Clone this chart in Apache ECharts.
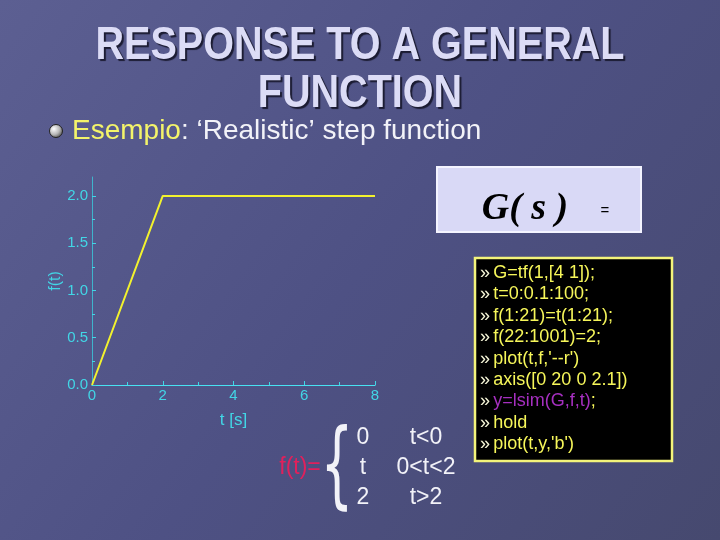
<!DOCTYPE html>
<html>
<head>
<meta charset="utf-8">
<script src="https://cdn.jsdelivr.net/npm/echarts@6/dist/echarts.min.js"></script>
<style>
html,body{margin:0;padding:0;background:#4e5182;}
#chart{width:720px;height:540px;}
</style>
</head>
<body>
<div id="chart"></div>
<script>
// ---- data ----
var timeValues = [0, 2, 8];
var fValues = [0, 2, 2];
var xTicks = [0, 2, 4, 6, 8];
var yTicks = [0, 0.5, 1.0, 1.5, 2.0];
var yMinorTicks = [0.25, 0.75, 1.25, 1.75];
var codeLines = [
  "G=tf(1,[4 1]);",
  "t=0:0.1:100;",
  "f(1:21)=t(1:21);",
  "f(22:1001)=2;",
  "plot(t,f,'--r')",
  "axis([0 20 0 2.1])",
  "y=lsim(G,f,t);",
  "hold",
  "plot(t,y,'b')"
];
var pieceValues = ["0", "t", "2"];
var pieceConds = ["t<0", "0<t<2", "t>2"];

var chart = echarts.init(document.getElementById('chart'), null, {renderer: 'canvas'});

var graphics = [];
// background
graphics.push({
  type: 'rect', z: -10, silent: true,
  shape: {x: 0, y: 0, width: 720, height: 540},
  style: {fill: new echarts.graphic.LinearGradient(0, 0, 1, 1, [
    {offset: 0, color: '#5c5f92'},
    {offset: 0.5, color: '#4e5184'},
    {offset: 1, color: '#46496f'}
  ])}
});
// title
['RESPONSE TO A GENERAL', 'FUNCTION'].forEach(function (t, i) {
  graphics.push({
    type: 'text', x: 360, y: 46 + i * 48, scaleX: 0.86,
    style: {
      text: t, fill: '#dcdcf6',
      font: 'bold 46px "Liberation Sans", Arial, sans-serif',
      textAlign: 'center', textVerticalAlign: 'middle',
      textShadowColor: 'rgba(20,20,40,0.9)', textShadowOffsetX: 2, textShadowOffsetY: 2, textShadowBlur: 1
    }
  });
});
// bullet
graphics.push({
  type: 'circle', shape: {cx: 56, cy: 131, r: 6.5},
  style: {
    fill: new echarts.graphic.RadialGradient(0.35, 0.35, 0.8, [
      {offset: 0, color: '#ffffff'}, {offset: 0.5, color: '#b8b8b8'}, {offset: 1, color: '#303030'}
    ]),
    stroke: '#222', lineWidth: 1
  }
});
graphics.push({
  type: 'text', x: 72, y: 131,
  style: {
    text: '{y|Esempio}{w|: \u2018Realistic\u2019 step function}',
    textVerticalAlign: 'middle', textAlign: 'left',
    textShadowColor: 'rgba(20,20,40,0.8)', textShadowOffsetX: 1, textShadowOffsetY: 1,
    rich: {
      y: {fill: '#f4f46a', font: '28px "Liberation Sans", Arial, sans-serif'},
      w: {fill: '#f2f2f8', font: '28px "Liberation Sans", Arial, sans-serif'}
    }
  }
});
// G(s) box
graphics.push({
  type: 'rect', shape: {x: 437, y: 167, width: 204, height: 65},
  style: {fill: '#d9d9f6', stroke: '#f4f4ff', lineWidth: 2}
});
graphics.push({
  type: 'text', x: 525, y: 209,
  style: {
    text: 'G( s )', fill: '#000', textAlign: 'center', textVerticalAlign: 'middle',
    font: 'italic bold 38px "Liberation Serif", "Times New Roman", serif'
  }
});
graphics.push({
  type: 'text', x: 605, y: 211,
  style: {text: '=', fill: '#000', textAlign: 'center', textVerticalAlign: 'middle',
    font: '15px "Liberation Sans", Arial, sans-serif'}
});
// code box
graphics.push({
  type: 'rect', shape: {x: 475, y: 258, width: 197, height: 203},
  style: {fill: '#000000', stroke: '#f4f47a', lineWidth: 2.5}
});
codeLines.forEach(function (line, i) {
  var txt;
  if (line.indexOf('lsim') >= 0) {
    txt = '{p|\u00bb} {m|' + line.replace(';', '') + '}{c|;}';
  } else {
    txt = '{p|\u00bb} {c|' + line + '}';
  }
  graphics.push({
    type: 'text', x: 480, y: 273 + i * 21.4,
    style: {
      text: txt, textAlign: 'left', textVerticalAlign: 'middle',
      rich: {
        p: {fill: '#f6f6d8', font: '18px "Liberation Sans", Arial, sans-serif'},
        c: {fill: '#f6f65a', font: '18px "Liberation Sans", Arial, sans-serif'},
        m: {fill: '#a62fc0', font: '18px "Liberation Sans", Arial, sans-serif'}
      }
    }
  });
});
// piecewise definition
graphics.push({
  type: 'text', x: 300, y: 468,
  style: {text: 'f(t)=', fill: '#e0205c', textAlign: 'center', textVerticalAlign: 'middle',
    font: '23px "Liberation Sans", Arial, sans-serif'}
});
graphics.push({
  type: 'text', x: 337, y: 472, scaleX: 0.55,
  style: {text: '{', fill: '#f2f2f8', textAlign: 'center', textVerticalAlign: 'middle',
    font: '94px "DejaVu Sans", sans-serif'}
});
pieceValues.forEach(function (v, i) {
  graphics.push({
    type: 'text', x: 363, y: 438 + i * 30,
    style: {text: v, fill: '#f2f2f8', textAlign: 'center', textVerticalAlign: 'middle',
      font: '23px "Liberation Sans", Arial, sans-serif'}
  });
  graphics.push({
    type: 'text', x: 426, y: 438 + i * 30,
    style: {text: pieceConds[i], fill: '#f2f2f8', textAlign: 'center', textVerticalAlign: 'middle',
      font: '23px "Liberation Sans", Arial, sans-serif'}
  });
});

var axisFont = '"Liberation Sans", Arial, sans-serif';
var cyan = '#42d6e6';

chart.setOption({
  animation: false,
  backgroundColor: 'transparent',
  graphic: graphics,
  grid: {left: 92, right: 345, top: 177, bottom: 155},
  xAxis: {
    type: 'value', min: 0, max: 8, interval: 2,
    name: 't [s]', nameLocation: 'middle', nameGap: 27,
    nameTextStyle: {color: cyan, fontSize: 17, fontFamily: axisFont},
    axisLine: {show: true, lineStyle: {color: '#48e2f2', width: 1.2}},
    axisTick: {show: true, inside: true, length: 4, lineStyle: {color: cyan}},
    minorTick: {show: true, splitNumber: 2, length: 3, lineStyle: {color: cyan}},
    axisLabel: {color: cyan, fontSize: 15, fontFamily: axisFont, margin: 3,
      customValues: xTicks, formatter: function (v) { return String(v); }},
    splitLine: {show: false}
  },
  yAxis: [{
    type: 'value', min: 0, max: 2.2,
    name: 'f(t)', nameLocation: 'middle', nameGap: 27, nameRotate: 90,
    nameTextStyle: {color: cyan, fontSize: 16, fontFamily: axisFont},
    axisLine: {show: true, lineStyle: {color: '#3fb4cc', width: 1}},
    axisTick: {show: true, inside: true, length: 4, customValues: yTicks, lineStyle: {color: cyan}},
    axisLabel: {color: cyan, fontSize: 15, fontFamily: axisFont, margin: 4,
      customValues: yTicks, formatter: function (v) { return v.toFixed(1); }},
    splitLine: {show: false}
  }, {
    type: 'value', min: 0, max: 2.2, position: 'left',
    axisLine: {show: false},
    axisTick: {show: true, inside: true, length: 3, customValues: yMinorTicks, lineStyle: {color: cyan}},
    axisLabel: {show: false},
    splitLine: {show: false}
  }],
  series: [{
    type: 'line', yAxisIndex: 0,
    data: timeValues.map(function (t, i) { return [t, fValues[i]]; }),
    showSymbol: false, symbol: 'none',
    lineStyle: {color: '#f2f22e', width: 2},
    z: 5
  }]
});
</script>
</body>
</html>
